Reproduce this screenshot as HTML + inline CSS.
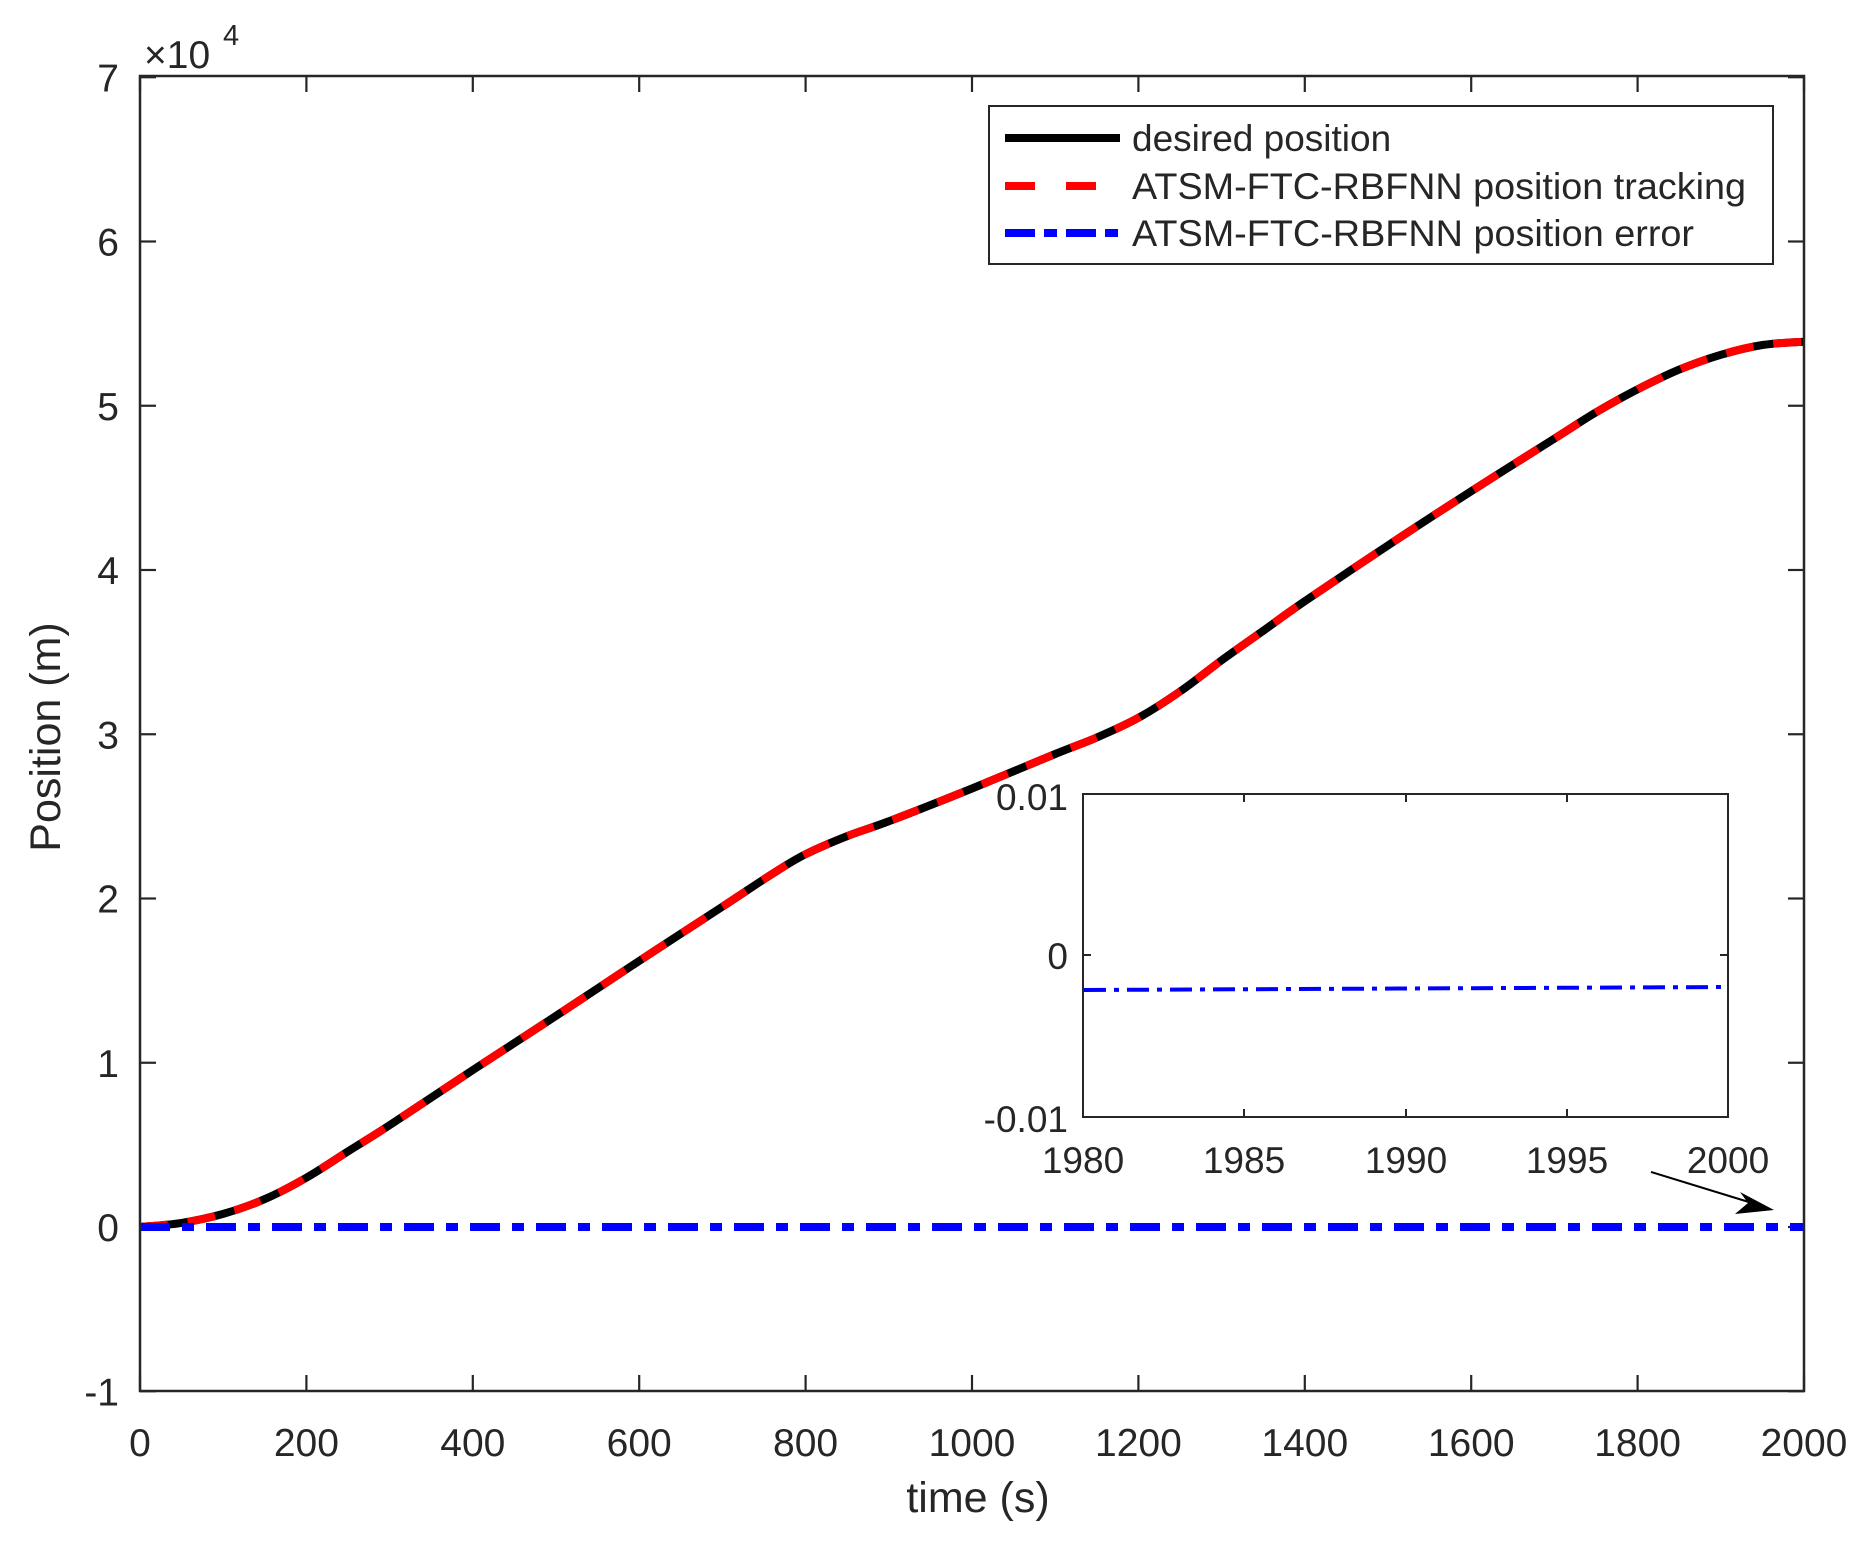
<!DOCTYPE html>
<html><head><meta charset="utf-8"><style>
html,body{margin:0;padding:0;background:#fff;}
svg text{font-family:"Liberation Sans",Arial,sans-serif;fill:#262626;}
</style></head><body>
<svg id="s" width="1876" height="1540" viewBox="0 0 1876 1540" xmlns="http://www.w3.org/2000/svg">
<rect x="0" y="0" width="1876" height="1540" fill="#fff"/>
<g id="ticks" stroke="#262626" stroke-width="2.2" fill="none"></g>
<g id="labels" font-size="39"></g>
<path id="black" fill="none" stroke="#000" stroke-width="8"/>
<path id="red" fill="none" stroke="#ff0000" stroke-width="8" stroke-dasharray="28 20"/>
<line x1="140" y1="1227" x2="1804" y2="1227" stroke="#0000ff" stroke-width="8" stroke-dasharray="30 12 12 12"/>
<rect x="140" y="76" width="1664" height="1315" fill="none" stroke="#262626" stroke-width="2.5"/>
<!-- legend -->
<rect x="989" y="106" width="784" height="158" fill="#fff" stroke="#262626" stroke-width="2"/>
<line x1="1005" y1="138" x2="1120" y2="138" stroke="#000" stroke-width="8"/>
<line x1="1005" y1="186" x2="1120" y2="186" stroke="#ff0000" stroke-width="8" stroke-dasharray="30 31"/>
<line x1="1005" y1="233" x2="1120" y2="233" stroke="#0000ff" stroke-width="8" stroke-dasharray="30 9 13 9"/>
<text x="1132" y="151" font-size="37">desired position</text>
<text x="1132" y="199" font-size="37" textLength="614" lengthAdjust="spacingAndGlyphs">ATSM-FTC-RBFNN position tracking</text>
<text x="1132" y="246" font-size="37" textLength="562" lengthAdjust="spacingAndGlyphs">ATSM-FTC-RBFNN position error</text>
<!-- inset -->
<rect x="1083" y="794" width="645" height="323" fill="#fff" stroke="#262626" stroke-width="2"/>
<g stroke="#262626" stroke-width="2">
<line x1="1244" y1="794" x2="1244" y2="802"/><line x1="1244" y1="1117" x2="1244" y2="1109"/>
<line x1="1406" y1="794" x2="1406" y2="802"/><line x1="1406" y1="1117" x2="1406" y2="1109"/>
<line x1="1567" y1="794" x2="1567" y2="802"/><line x1="1567" y1="1117" x2="1567" y2="1109"/>
<line x1="1083" y1="955" x2="1091" y2="955"/><line x1="1728" y1="955" x2="1720" y2="955"/>
</g>
<line x1="1084" y1="990" x2="1727" y2="987" stroke="#0000ff" stroke-width="4" stroke-dasharray="22 8 5 8"/>
<g font-size="37" text-anchor="middle">
<text x="1083" y="1173">1980</text><text x="1244" y="1173">1985</text><text x="1406" y="1173">1990</text><text x="1567" y="1173">1995</text><text x="1728" y="1173">2000</text>
</g>
<g font-size="37" text-anchor="end">
<text x="1068" y="810">0.01</text><text x="1068" y="969">0</text><text x="1068" y="1132">-0.01</text>
</g>
<!-- arrow -->
<line x1="1651" y1="1172" x2="1752" y2="1203" stroke="#000" stroke-width="2"/>
<polygon points="1774,1210 1740,1192 1748,1203 1735,1214" fill="#000"/>
<!-- axis labels -->
<text x="978" y="1512" font-size="43" text-anchor="middle">time (s)</text>
<text transform="translate(60,737) rotate(-90)" font-size="43" text-anchor="middle">Position (m)</text>
<text x="144" y="68" font-size="39">×10</text>
<text x="223" y="45" font-size="29">4</text>
</svg>
<script>
var X0=140,X1=1804,Y0=1227,U=164.25;
function px(t){return X0+t*(X1-X0)/2000;}
function py(v){return Y0-v*U;}
var tk=document.getElementById('ticks'),lb=document.getElementById('labels');
var ns="http://www.w3.org/2000/svg";
function el(tag,a,p,txt){var e=document.createElementNS(ns,tag);for(var k in a)e.setAttribute(k,a[k]);if(txt!==undefined)e.textContent=txt;p.appendChild(e);}
for(var t=0;t<=2000;t+=200){var x=px(t);
 el('line',{x1:x,y1:1391,x2:x,y2:1375},tk);el('line',{x1:x,y1:76,x2:x,y2:92},tk);
 el('text',{x:x,y:1456,'text-anchor':'middle'},lb,String(t));}
for(var v=-1;v<=7;v++){var y=py(v);
 el('line',{x1:140,y1:y,x2:156,y2:y},tk);el('line',{x1:1804,y1:y,x2:1788,y2:y},tk);
 el('text',{x:119,y:y+14,'text-anchor':'end'},lb,String(v));}
var d=[[0,0],[50,0.025],[100,0.08],[150,0.17],[200,0.3],[250,0.46],[300,0.62],[400,0.955],[500,1.285],[600,1.62],[700,1.95],[760,2.15],[800,2.27],[850,2.38],[900,2.47],[1000,2.67],[1100,2.88],[1150,2.98],[1200,3.1],[1250,3.26],[1300,3.45],[1350,3.63],[1400,3.81],[1500,4.15],[1600,4.48],[1700,4.8],[1750,4.96],[1800,5.1],[1850,5.22],[1900,5.31],[1950,5.37],[2000,5.39]];
var P=d.map(function(p){return [px(p[0]),py(p[1])];});
var s="M"+P[0][0]+","+P[0][1];
for(var i=0;i<P.length-1;i++){var p0=P[Math.max(0,i-1)],p1=P[i],p2=P[i+1],p3=P[Math.min(P.length-1,i+2)];
 var c1=[p1[0]+(p2[0]-p0[0])/6,p1[1]+(p2[1]-p0[1])/6],c2=[p2[0]-(p3[0]-p1[0])/6,p2[1]-(p3[1]-p1[1])/6];
 s+=" C"+c1[0].toFixed(1)+","+c1[1].toFixed(1)+" "+c2[0].toFixed(1)+","+c2[1].toFixed(1)+" "+p2[0].toFixed(1)+","+p2[1].toFixed(1);}
document.getElementById('black').setAttribute('d',s);
document.getElementById('red').setAttribute('d',s);
</script>
</body></html>
